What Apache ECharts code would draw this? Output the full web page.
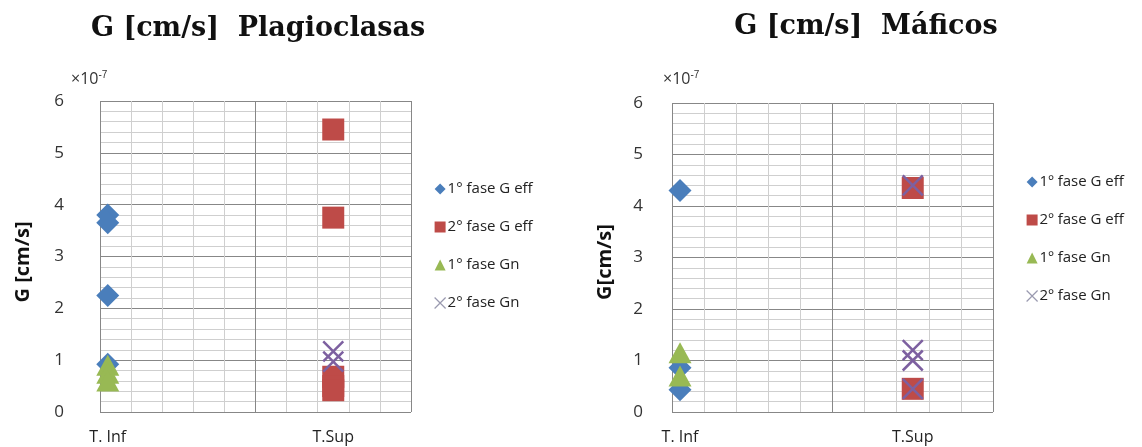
<!DOCTYPE html>
<html><head><meta charset="utf-8">
<script src="https://cdn.jsdelivr.net/npm/echarts@6/dist/echarts.min.js"></script>
<style>html,body{margin:0;padding:0;background:#fff}#c{width:1142px;height:447px}</style>
</head><body><div id="c"></div>
<script>
// ---- data (values in units of 1e-7 cm/s) ----
const categories = ['T. Inf', 'T.Sup'];
const catX = [0.25, 7.5];              // x value of each category on the 0-10 scale
const yTicks = [0, 1, 2, 3, 4, 5, 6];
const plagNames = ['1° fase G eff', '2° fase G eff', '1° fase Gn', '2° fase Gn'];
const mafNames = ['1º fase G eff', '2º fase G eff', '1º fase Gn', '2º fase Gn'];
// Plagioclasas
const plag_g1eff_inf = [3.8, 3.65, 2.25, 0.92];
const plag_g1eff_sup = [];
const plag_g2eff_inf = [];
const plag_g2eff_sup = [5.45, 3.75, 0.68, 0.5, 0.42];
const plag_g1n_inf = [0.9, 0.75, 0.6];
const plag_g1n_sup = [];
const plag_g2n_inf = [];
const plag_g2n_sup = [1.17, 0.97];
// Máficos
const maf_g1eff_inf = [4.3, 0.86, 0.43];
const maf_g1eff_sup = [];
const maf_g2eff_inf = [];
const maf_g2eff_sup = [4.35, 0.45];
const maf_g1n_inf = [1.15, 0.7];
const maf_g1n_sup = [];
const maf_g2n_inf = [];
const maf_g2n_sup = [4.4, 1.2, 1.0, 0.45];

const COLORS = ['#4A7EBB', '#BE4B48', '#98B954', '#7D60A0'];
const XPATH = 'path://M0,0L10,10M10,0L0,10';
const SYMBOLS = ['diamond', 'rect', 'triangle', XPATH];
const SIZES = [[23, 23], [22, 22], [23, 21], [20, 20]];

function pts(inf, sup) {
  return inf.map(v => [catX[0], v]).concat(sup.map(v => [catX[1], v]));
}
const plagSets = [
  pts(plag_g1eff_inf, plag_g1eff_sup), pts(plag_g2eff_inf, plag_g2eff_sup),
  pts(plag_g1n_inf, plag_g1n_sup), pts(plag_g2n_inf, plag_g2n_sup)];
const mafSets = [
  pts(maf_g1eff_inf, maf_g1eff_sup), pts(maf_g2eff_inf, maf_g2eff_sup),
  pts(maf_g1n_inf, maf_g1n_sup), pts(maf_g2n_inf, maf_g2n_sup)];

const MAJOR = '#878787', MINOR = '#cfcfcf';
const grids = [
  {left: 100, right: 731, top: 101, bottom: 35},
  {left: 672, right: 149, top: 103, bottom: 35}
];
const yLabelMargin = [36, 29];
const xAxes = [], yAxes = [], series = [];
[0, 1].forEach(g => {
  const base = xAxes.length;
  xAxes.push({gridIndex: g, type: 'value', position: 'bottom', min: 0, max: 10, interval: 1,
    axisLine: {show: false}, axisTick: {show: false}, axisLabel: {show: false},
    splitLine: {show: true, lineStyle: {color: MINOR, width: 1}}});
  xAxes.push({gridIndex: g, type: 'value', position: 'bottom', min: 0, max: 10, interval: 5,
    axisLine: {show: false}, axisTick: {show: false}, axisLabel: {show: false},
    splitLine: {show: true, lineStyle: {color: MAJOR, width: 1}}});
  xAxes.push({gridIndex: g, type: 'value', position: 'bottom', offset: 0, min: 0, max: 10, interval: 0.25,
    axisLine: {show: false}, axisTick: {show: false}, splitLine: {show: false},
    axisLabel: {show: true, margin: 17, color: '#222', fontSize: 16, fontFamily: 'Open Sans',
      showMinLabel: true, showMaxLabel: true, hideOverlap: false,
      formatter: v => { const i = catX.findIndex(c => Math.abs(c - v) < 1e-6); return i >= 0 ? categories[i] : ''; }}});
  yAxes.push({gridIndex: g, type: 'value', min: yTicks[0], max: yTicks[yTicks.length - 1], interval: 1,
    axisLine: {show: false}, axisTick: {show: false},
    axisLabel: {margin: yLabelMargin[g], color: '#333', fontSize: 17, fontFamily: 'Open Sans'},
    splitLine: {show: true, lineStyle: {color: MAJOR, width: 1}},
    minorTick: {show: false, splitNumber: 5},
    minorSplitLine: {show: true, lineStyle: {color: MINOR, width: 1}}});
  const sets = g === 0 ? plagSets : mafSets;
  const names = g === 0 ? plagNames : mafNames;
  sets.forEach((d, i) => {
    const isX = i === 3;
    series.push({
      name: names[i], type: 'scatter', xAxisIndex: base, yAxisIndex: g, data: d,
      symbol: SYMBOLS[i], symbolSize: SIZES[i], z: 2 + i,
      itemStyle: isX ? {color: 'rgba(0,0,0,0)', borderColor: COLORS[i], borderWidth: 2.5, opacity: 1}
                     : {color: COLORS[i], opacity: 1},
      emphasis: {disabled: true}
    });
  });
});

function legendFor(names, left, top) {
  return {
    left: left, top: top, orient: 'vertical', itemGap: 20, itemWidth: 11, itemHeight: 11,
    selectedMode: false,
    textStyle: {fontSize: 15, lineHeight: 18, fontFamily: 'Open Sans', color: '#222', padding: [0, 0, 0, -3]},
    data: names.map((n, i) => ({
      name: n, icon: SYMBOLS[i],
      itemStyle: i === 3 ? {color: 'rgba(0,0,0,0)', borderColor: '#9a9ab0', borderWidth: 1.2}
                          : {color: COLORS[i]}
    }))
  };
}

const chart = echarts.init(document.getElementById('c'), null, {renderer: 'canvas'});
chart.setOption({
  animation: false,
  title: [
    {text: 'G [cm/s]  Plagioclasas', left: 253, top: 10, textAlign: 'center',
     textStyle: {fontFamily: 'DejaVu Serif', fontWeight: 'bold', fontSize: 27, color: '#111'}},
    {text: 'G [cm/s]  Máficos', left: 861, top: 8, textAlign: 'center',
     textStyle: {fontFamily: 'DejaVu Serif', fontWeight: 'bold', fontSize: 27, color: '#111'}}
  ],
  legend: [legendFor(plagNames, 429, 175), legendFor(mafNames, 1021, 168)],
  grid: grids,
  xAxis: xAxes,
  yAxis: yAxes,
  series: series,
  graphic: [
    {type: 'text', left: 71, top: 70, style: {text: '×10{s|-7}', fill: '#333', font: '16px Open Sans',
      rich: {s: {fontSize: 10, verticalAlign: 'top', padding: [0, 0, 8, 0]}}}},
    {type: 'text', left: 663, top: 70, style: {text: '×10{s|-7}', fill: '#333', font: '16px Open Sans',
      rich: {s: {fontSize: 10, verticalAlign: 'top', padding: [0, 0, 8, 0]}}}},
    {type: 'text', x: 23, y: 262, rotation: Math.PI / 2, style: {text: 'G [cm/s]', fill: '#111',
      font: 'bold 20px Open Sans', align: 'center', verticalAlign: 'middle'}},
    {type: 'text', x: 605, y: 262, rotation: Math.PI / 2, style: {text: 'G[cm/s]', fill: '#111',
      font: 'bold 20px Open Sans', align: 'center', verticalAlign: 'middle'}}
  ]
});
</script></body></html>
